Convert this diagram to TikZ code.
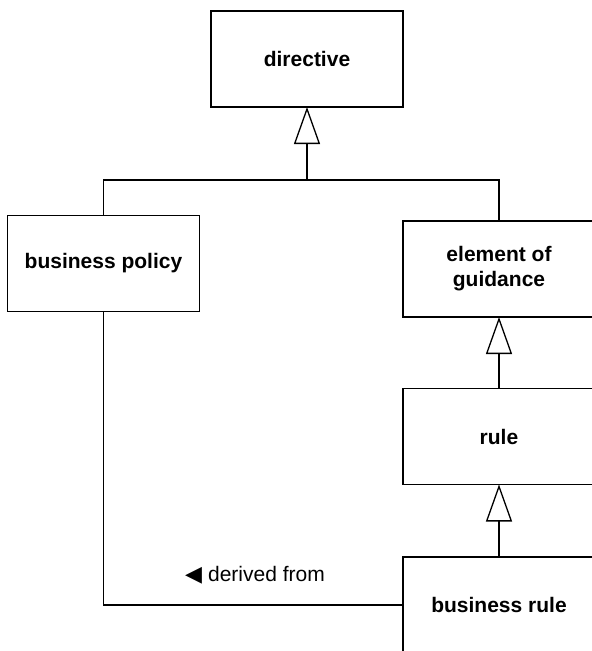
\documentclass[tikz,border=0pt]{standalone}
\usepackage{fontspec}
\setmainfont{Liberation Sans}
\newfontfamily\symfont{DejaVu Sans}
\usetikzlibrary{arrows.meta}
\tikzset{
  classbox/.style={draw=black, line width=1.8pt, fill=white, minimum width=192pt, minimum height=96pt,
    inner sep=0pt, outer sep=0pt, align=center, font=\fontsize{21}{25}\selectfont\bfseries},
  conn/.style={draw=black, line width=1.2pt},
  gen/.style={conn, -{Triangle[open, length=37pt, width=26pt, line width=1.3pt]}},
  lbl/.style={inner sep=0pt, font=\fontsize{21}{25}\selectfont}
}
\begin{document}
\begin{tikzpicture}[x=1pt, y=-1pt]
\useasboundingbox (0,0) rectangle (592,651);
\node[classbox] (dir) at (307,59) {directive};
\node[classbox] (bp) at (103.5,263.5) {business policy};
\node[classbox] (eg) at (499,269) {element of\\guidance};
\node[classbox] (rule) at (499,436.5) {rule};
\node[classbox] (br) at (499,605) {business rule};
\coordinate (j) at (307,180);
\draw[conn] (bp.north) |- (j) -| (eg.north);
\draw[gen] (j) -- (dir.south);
\draw[gen] (rule.north) -- (eg.south);
\draw[gen] (br.north) -- (rule.south);
\draw[conn] (bp.south) |- (br.west);
\node[lbl, anchor=base west] (df) at (185,581.7) {{\symfont\fontsize{22}{25}\selectfont ◀}\hspace{6pt}derived from};
\end{tikzpicture}
\end{document}
